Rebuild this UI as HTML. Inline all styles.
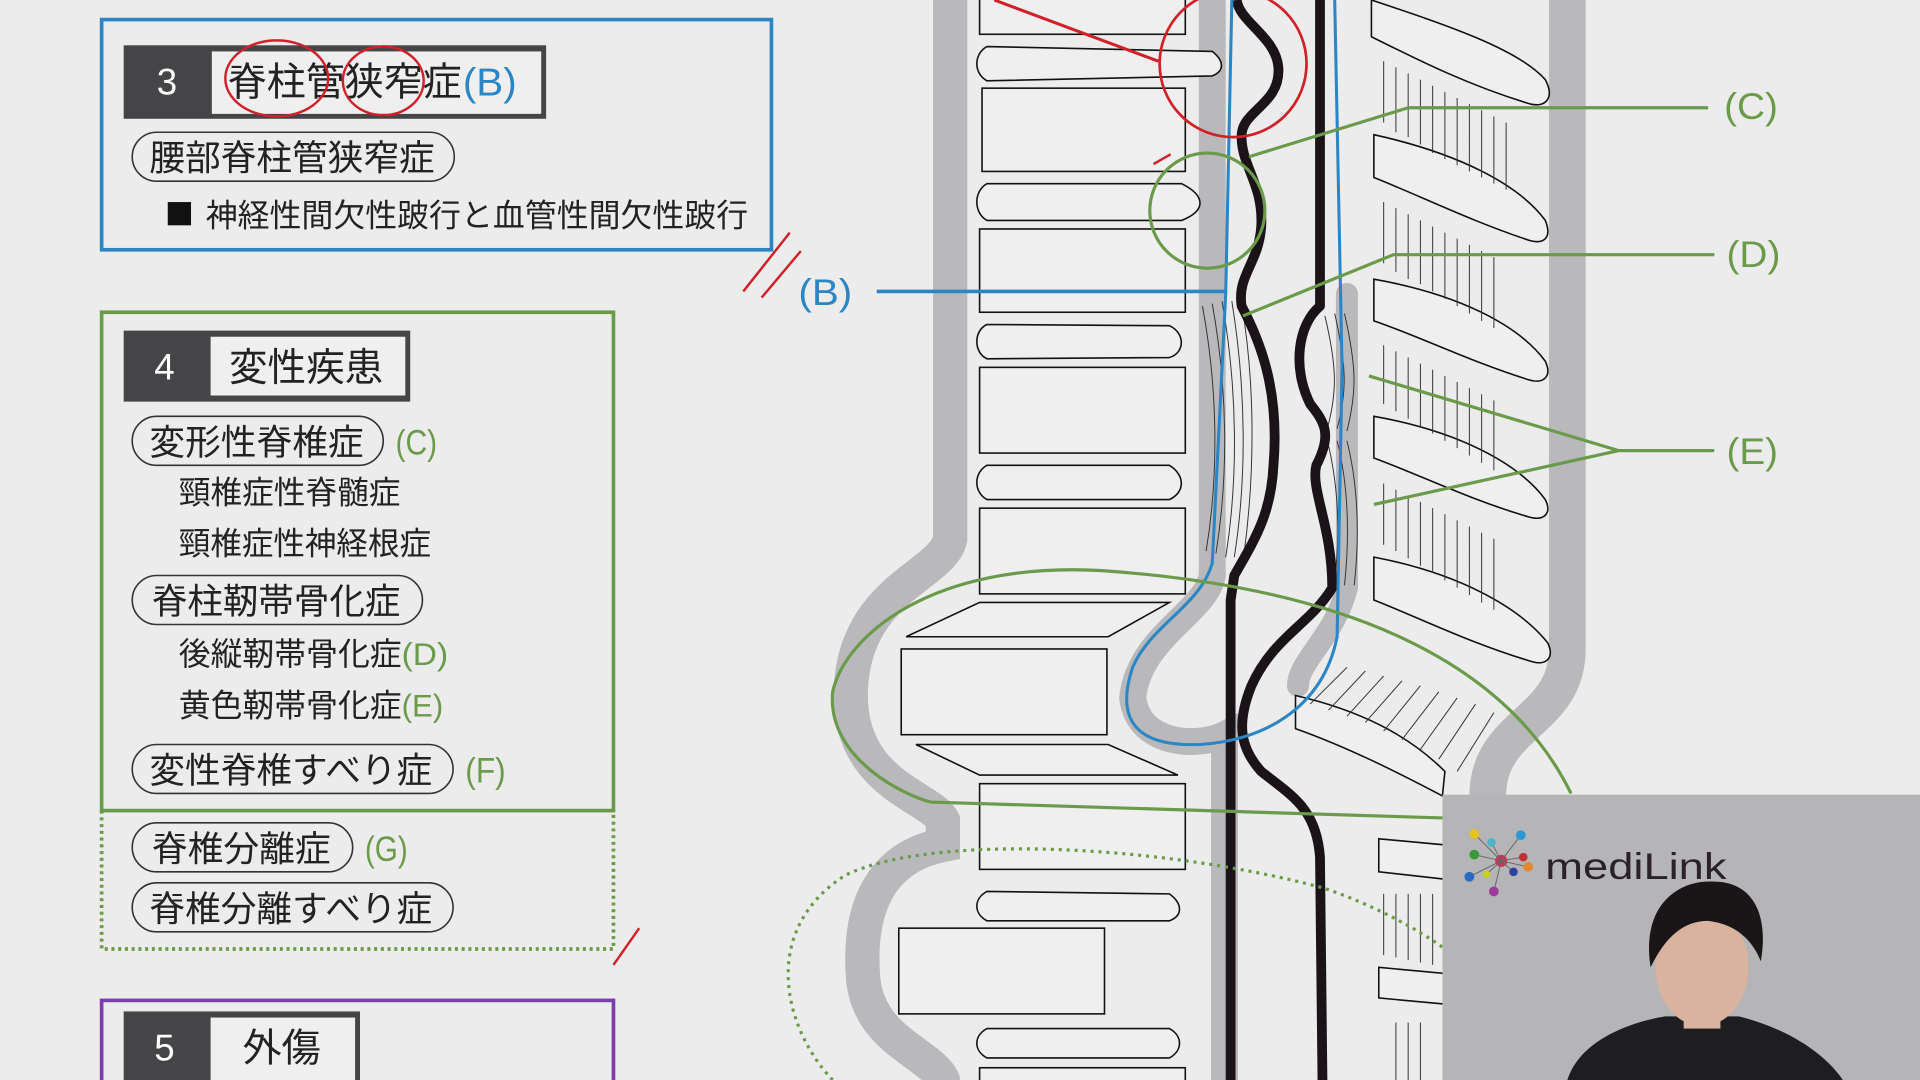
<!DOCTYPE html>
<html><head><meta charset="utf-8">
<style>
html,body{margin:0;padding:0;background:#ececed;overflow:hidden}
svg{display:block}
text{font-family:"Liberation Sans","Noto Sans CJK JP",sans-serif}
</style></head><body>
<svg width="1920" height="1080" viewBox="0 0 1568 882" xmlns="http://www.w3.org/2000/svg">
<rect width="1568" height="882" fill="#ececed"/>

<!-- ============ RIGHT DIAGRAM ============ -->
<g fill="none" stroke="#b9b9bb" stroke-linecap="round">
  <path d="M776 0 L776 440 C770 470 700 480 695 560 C690 640 760 650 770 670 L770 690 C720 700 700 740 705 800 C710 850 760 860 770 882" stroke-width="28"/>
  <path d="M1280 0 L1280 530 C1280 590 1215 590 1215 650 L1215 882" stroke-width="30"/>
  <path d="M990 0 L990 470 C985 500 930 520 925 570 C930 610 980 610 1000 600 L1000 882" stroke-width="22"/>
  <path d="M1100 240 L1100 480 C1090 520 1060 540 1060 560" stroke-width="18"/>
</g>

<g fill="#efeff0" stroke="#111" stroke-width="1.3">
  <rect x="800" y="-5" width="168" height="33"/>
  <rect x="802" y="72" width="166" height="68"/>
  <rect x="800" y="187" width="168" height="68"/>
  <rect x="800" y="300" width="168" height="70"/>
  <rect x="800" y="415" width="168" height="70"/>
  <path d="M740 520 L800 492 L955 492 L905 520 Z"/>
  <rect x="736" y="530" width="168" height="70"/>
  <path d="M748 608 L905 608 L962 633 L800 633 Z"/>
  <rect x="800" y="640" width="168" height="70"/>
  <rect x="734" y="758" width="168" height="70"/>
  <rect x="800" y="872" width="168" height="20"/>
  <path d="M806 38 L990 42 C1000 50 1000 58 990 62 L806 66 C795 60 795 44 806 38 Z"/>
  <path d="M806 150 L965 150 C985 160 985 172 965 180 L806 180 C795 174 795 156 806 150 Z"/>
  <path d="M806 265 L955 266 C968 272 968 288 955 292 L806 293 C795 288 795 270 806 265 Z"/>
  <path d="M806 380 L955 380 C968 388 968 402 955 408 L806 408 C795 402 795 386 806 380 Z"/>
  <path d="M806 728 L955 730 C966 738 966 748 955 752 L806 752 C795 746 795 734 806 728 Z"/>
  <path d="M806 840 L955 840 C966 846 966 858 955 864 L806 864 C795 858 795 846 806 840 Z"/>
</g>

<g fill="#efeff0" stroke="#111" stroke-width="1.3">
  <path d="M1120 0 C1180 20 1240 40 1262 65 C1270 80 1262 88 1250 85 C1200 70 1160 50 1120 30 Z"/>
  <path d="M1122 110 C1190 125 1240 150 1262 180 C1268 195 1260 200 1248 196 C1200 180 1160 160 1122 145 Z"/>
  <path d="M1122 228 C1190 240 1240 265 1262 295 C1268 308 1260 314 1248 310 C1200 295 1160 275 1122 262 Z"/>
  <path d="M1122 340 C1190 352 1240 378 1262 408 C1268 420 1260 426 1248 422 C1200 408 1160 388 1122 374 Z"/>
  <path d="M1122 455 C1190 468 1240 495 1264 525 C1270 538 1262 544 1250 540 C1200 525 1160 505 1122 490 Z"/>
  <path d="M1058 568 C1110 580 1150 600 1180 630 L1178 650 C1140 630 1100 610 1058 595 Z"/>
  <path d="M1126 685 L1180 690 L1180 718 L1126 712 Z"/>
  <path d="M1126 790 L1180 795 L1180 820 L1126 815 Z"/>
</g>
<g stroke="#333" stroke-width="0.8" fill="none">
  <path d="M1130 50 V100 M1140 55 V108 M1150 60 V112 M1160 65 V118 M1170 70 V125 M1180 75 V130 M1190 80 V135 M1200 85 V140 M1210 90 V145 M1220 95 V150 M1230 100 V155"/>
  <path d="M1130 165 V215 M1140 170 V222 M1150 175 V228 M1160 180 V232 M1170 185 V238 M1180 190 V244 M1190 195 V250 M1200 200 V256 M1210 205 V262 M1220 210 V268"/>
  <path d="M1130 282 V330 M1140 287 V336 M1150 292 V342 M1160 297 V348 M1170 302 V354 M1180 307 V360 M1190 312 V366 M1200 317 V372 M1210 322 V378 M1220 327 V384"/>
  <path d="M1130 395 V445 M1140 400 V450 M1150 405 V456 M1160 410 V462 M1170 415 V468 M1180 420 V474 M1190 425 V480 M1200 430 V486 M1210 435 V492 M1220 440 V498"/>
  <path d="M1070 575 L1100 545 M1085 580 L1115 548 M1100 585 L1130 552 M1115 590 L1145 556 M1130 597 L1160 560 M1145 604 L1175 565 M1160 612 L1190 570 M1175 620 L1205 575 M1190 630 L1220 582"/>
  <path d="M1130 730 V780 M1140 730 V782 M1150 730 V784 M1160 730 V786 M1170 730 V788 M1140 835 V882 M1150 835 V882 M1160 835 V882"/>
  <path d="M982 250 C995 320 995 390 985 450 M990 248 C1003 320 1003 390 993 452 M998 246 C1011 320 1011 392 1001 455 M1006 246 C1018 320 1018 392 1008 455 M1014 248 C1026 320 1024 392 1016 452"/>
  <path d="M1082 258 C1092 300 1092 320 1084 350 M1090 256 C1100 300 1100 320 1092 350 M1098 256 C1108 300 1108 320 1100 352 M1084 360 C1094 400 1094 440 1090 475 M1092 360 C1102 400 1102 440 1098 478 M1100 360 C1110 400 1110 440 1106 478"/>
</g>

<g fill="none" stroke="#1a1418" stroke-width="8" stroke-linejoin="round">
  <path d="M1010 0 C1012 18 1042 30 1044 55 C1046 85 1015 90 1014 110 C1013 135 1032 150 1030 185 C1028 215 1010 225 1014 250 C1030 280 1045 320 1040 380 C1038 420 1025 440 1008 470 L1005 490 L1005 882"/>
  <path d="M1078 0 L1078 250 C1060 265 1055 300 1070 330 C1082 345 1088 355 1075 380 C1070 400 1088 430 1088 480 C1070 510 1040 520 1022 560 C1010 590 1012 610 1030 630 C1055 650 1075 660 1078 700 L1080 882"/>
</g>

<path d="M1006 0 L1001 240 L997 320 L990 460 C980 495 940 510 925 545 C910 590 930 610 980 608 C1030 605 1080 580 1092 520 L1096 300 L1090 0" fill="none" stroke="#2a86c4" stroke-width="2.5"/>

<circle cx="1007" cy="52" r="60" fill="none" stroke="#d0212a" stroke-width="2.2"/>
<path d="M812 0 L946 50" stroke="#d0212a" stroke-width="2.5"/>
<path d="M942 134 L956 126" stroke="#d0212a" stroke-width="2"/>
<path d="M607 238 L645 190 M622 243 L654 205" stroke="#d0212a" stroke-width="2" fill="none"/>
<path d="M501 788 L522 758" stroke="#d0212a" stroke-width="2"/>

<g fill="none" stroke="#6a9a4a" stroke-width="2.6">
  <circle cx="986" cy="172" r="47"/>
  <path d="M1020 128 L1150 88 L1395 88"/>
  <path d="M1015 258 L1138 208 L1400 208"/>
  <path d="M1118 307 L1322 368 L1400 368 M1122 412 L1322 368"/>
  <path d="M1283 648 C1230 540 1100 480 900 466 C760 458 690 520 680 565 C675 620 740 650 760 655 L1178 668"/>
  <path d="M680 882 C640 840 620 760 690 715 C760 680 950 690 1080 725 C1120 738 1160 760 1180 775" stroke-dasharray="2.5 4"/>
</g>
<g fill="#6a9a4a" font-size="30">
  <text x="1408" y="97" textLength="44" lengthAdjust="spacingAndGlyphs">(C)</text>
  <text x="1410" y="218" textLength="44" lengthAdjust="spacingAndGlyphs">(D)</text>
  <text x="1410" y="379" textLength="42" lengthAdjust="spacingAndGlyphs">(E)</text>
</g>

<path d="M716 238 L1000 238" stroke="#2a86c4" stroke-width="3"/>
<text x="652" y="249" font-size="30" fill="#2a86c4" textLength="44" lengthAdjust="spacingAndGlyphs">(B)</text>

<!-- ============ LEFT PANEL ============ -->
<rect x="83" y="16" width="547" height="188" fill="none" stroke="#2a86c4" stroke-width="3"/>
<rect x="101" y="37" width="345" height="60" fill="#454547"/>
<rect x="173" y="42" width="269" height="51" fill="#efeff0"/>
<text x="128" y="77" font-size="30" fill="#fff">3</text>
<text x="186" y="78" font-size="32" fill="#222" textLength="191" lengthAdjust="spacingAndGlyphs">脊柱管狭窄症</text>
<text x="378" y="78" font-size="32" fill="#2a86c4" textLength="44" lengthAdjust="spacingAndGlyphs">(B)</text>
<ellipse cx="226" cy="64" rx="42" ry="31" fill="none" stroke="#d0212a" stroke-width="2"/>
<ellipse cx="313" cy="66" rx="33" ry="28" fill="none" stroke="#d0212a" stroke-width="2"/>
<rect x="108" y="108" width="263" height="40" rx="20" fill="none" stroke="#333" stroke-width="1.3"/>
<text x="122" y="139" font-size="29" fill="#222" textLength="233" lengthAdjust="spacingAndGlyphs">腰部脊柱管狭窄症</text>
<rect x="137" y="165" width="19" height="19" fill="#111"/>
<text x="168" y="185" font-size="26" fill="#222" textLength="443" lengthAdjust="spacingAndGlyphs">神経性間欠性跛行と血管性間欠性跛行</text>

<rect x="83" y="255" width="418" height="407" fill="none" stroke="#6a9a4a" stroke-width="3"/>
<rect x="101" y="270" width="234" height="58" fill="#454547"/>
<rect x="172" y="275" width="159" height="48" fill="#efeff0"/>
<text x="126" y="310" font-size="30" fill="#fff">4</text>
<text x="187" y="311" font-size="32" fill="#222" textLength="126" lengthAdjust="spacingAndGlyphs">変性疾患</text>

<g fill="none" stroke="#333" stroke-width="1.3">
  <rect x="108" y="340" width="205" height="40" rx="20"/>
  <rect x="108" y="470" width="237" height="40" rx="20"/>
  <rect x="108" y="608" width="262" height="40" rx="20"/>
  <rect x="108" y="672" width="180" height="40" rx="20"/>
  <rect x="108" y="721" width="262" height="40" rx="20"/>
</g>
<g font-size="29" fill="#222" lengthAdjust="spacingAndGlyphs">
  <text x="122" y="371" textLength="175" lengthAdjust="spacingAndGlyphs">変形性脊椎症</text>
  <text x="323" y="371" fill="#6a9a4a" textLength="34" lengthAdjust="spacingAndGlyphs">(C)</text>
  <text x="146" y="411" font-size="26" textLength="181" lengthAdjust="spacingAndGlyphs">頸椎症性脊髄症</text>
  <text x="146" y="453" font-size="26" textLength="206" lengthAdjust="spacingAndGlyphs">頸椎症性神経根症</text>
  <text x="124" y="501" textLength="203" lengthAdjust="spacingAndGlyphs">脊柱靭帯骨化症</text>
  <text x="146" y="543" font-size="26" textLength="182" lengthAdjust="spacingAndGlyphs">後縦靭帯骨化症</text>
  <text x="328" y="543" font-size="26" fill="#6a9a4a" textLength="38" lengthAdjust="spacingAndGlyphs">(D)</text>
  <text x="146" y="585" font-size="26" textLength="182" lengthAdjust="spacingAndGlyphs">黄色靭帯骨化症</text>
  <text x="328" y="585" font-size="26" fill="#6a9a4a" textLength="34" lengthAdjust="spacingAndGlyphs">(E)</text>
  <text x="122" y="639" textLength="231" lengthAdjust="spacingAndGlyphs">変性脊椎すべり症</text>
  <text x="380" y="639" fill="#6a9a4a" textLength="33" lengthAdjust="spacingAndGlyphs">(F)</text>
  <text x="124" y="703" textLength="146" lengthAdjust="spacingAndGlyphs">脊椎分離症</text>
  <text x="298" y="703" fill="#6a9a4a" textLength="35" lengthAdjust="spacingAndGlyphs">(G)</text>
  <text x="122" y="752" textLength="231" lengthAdjust="spacingAndGlyphs">脊椎分離すべり症</text>
</g>
<path d="M83 662 V775 H501 V662" fill="none" stroke="#6a9a4a" stroke-width="3" stroke-dasharray="2.5 3"/>

<rect x="83" y="817" width="418" height="80" fill="none" stroke="#7a3fa8" stroke-width="3"/>
<rect x="101" y="826" width="193" height="60" fill="#454547"/>
<rect x="172" y="831" width="118" height="55" fill="#efeff0"/>
<text x="126" y="866" font-size="30" fill="#fff">5</text>
<text x="198" y="867" font-size="32" fill="#222" textLength="64" lengthAdjust="spacingAndGlyphs">外傷</text>

<!-- ============ VIDEO OVERLAY ============ -->
<rect x="1178" y="649" width="390" height="233" fill="#b5b5b7"/>
<g>
  <circle cx="1226" cy="703" r="5" fill="#d62f5a"/>
  <g stroke="#666" stroke-width="0.8">
    <path d="M1226 703 L1204 681 M1226 703 L1218 688 M1226 703 L1242 682 M1226 703 L1204 698 M1226 703 L1244 700 M1226 703 L1200 716 M1226 703 L1214 714 M1226 703 L1236 712 M1226 703 L1248 708 M1226 703 L1220 728"/>
  </g>
  <circle cx="1204" cy="681" r="4" fill="#e6c21d"/>
  <circle cx="1218" cy="688" r="3.5" fill="#4fb6c8"/>
  <circle cx="1242" cy="682" r="4" fill="#2a9ad4"/>
  <circle cx="1204" cy="698" r="4" fill="#3a9a3a"/>
  <circle cx="1244" cy="700" r="3.5" fill="#c03030"/>
  <circle cx="1200" cy="716" r="4" fill="#2a6ac4"/>
  <circle cx="1214" cy="714" r="3" fill="#c8d020"/>
  <circle cx="1236" cy="712" r="3.5" fill="#3040a0"/>
  <circle cx="1248" cy="708" r="4" fill="#e08a30"/>
  <circle cx="1220" cy="728" r="4" fill="#a03aa0"/>
  <text x="1262" y="718" font-size="30" fill="#2a2226" textLength="148" lengthAdjust="spacingAndGlyphs">mediLink</text>
</g>
<path d="M1280 882 C1290 850 1330 835 1360 830 L1420 830 C1460 840 1490 860 1505 882 Z" fill="#1e1e20"/>
<ellipse cx="1390" cy="790" rx="38" ry="48" fill="#d9b3a0"/>
<path d="M1348 790 C1340 740 1370 718 1400 720 C1430 720 1445 745 1438 785 C1432 770 1420 755 1395 752 C1375 752 1360 765 1348 790 Z" fill="#1a1618"/>
<rect x="1375" y="830" width="30" height="10" fill="#d9b3a0"/>
</svg>
</body></html>
